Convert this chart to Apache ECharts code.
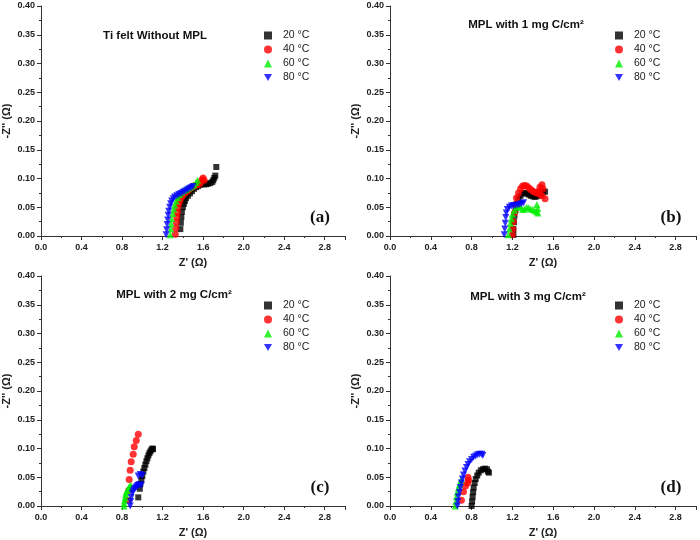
<!DOCTYPE html>
<html>
<head>
<meta charset="utf-8">
<script src="https://cdn.jsdelivr.net/npm/echarts@6/dist/echarts.min.js"></script>
<style>
  html, body { margin: 0; padding: 0; background: #fff; }
  #chart { width: 700px; height: 540px; }
</style>
</head>
<body>
<div id="chart"></div>
<script>
// legend names and panel texts
const tempNames = ['20 °C', '40 °C', '60 °C', '80 °C']
const panelTitles = ['Ti felt Without MPL', 'MPL with 1 mg C/cm²', 'MPL with 2 mg C/cm²', 'MPL with 3 mg C/cm²']
const panelLabels = ['(a)', '(b)', '(c)', '(d)']
const xTickLabels = ['0.0', '0.4', '0.8', '1.2', '1.6', '2.0', '2.4', '2.8']

// (a) Ti felt without MPL : [Z', -Z'']
const a20 = [[1.375,0.012],[1.38,0.023],[1.385,0.033],[1.39,0.042],[1.40,0.05],[1.41,0.056],[1.42,0.061],[1.43,0.066],[1.45,0.07],[1.47,0.074],[1.49,0.078],[1.51,0.082],[1.53,0.085],[1.55,0.087],[1.57,0.089],[1.59,0.09],[1.61,0.09],[1.63,0.09],[1.65,0.091],[1.67,0.092],[1.69,0.094],[1.70,0.097],[1.71,0.101],[1.72,0.105],[1.73,0.12]]
const a40 = [[1.325,0.003],[1.33,0.014],[1.335,0.024],[1.34,0.033],[1.345,0.041],[1.35,0.049],[1.36,0.056],[1.37,0.062],[1.385,0.067],[1.40,0.071],[1.42,0.075],[1.44,0.078],[1.46,0.081],[1.48,0.084],[1.50,0.086],[1.52,0.088],[1.54,0.089],[1.56,0.09],[1.575,0.093],[1.59,0.098],[1.60,0.101],[1.61,0.097]]
const a60 = [[1.275,0.002],[1.28,0.012],[1.285,0.021],[1.29,0.03],[1.30,0.039],[1.31,0.047],[1.32,0.054],[1.335,0.061],[1.35,0.067],[1.37,0.072],[1.39,0.076],[1.41,0.079],[1.43,0.081],[1.45,0.083],[1.47,0.085],[1.49,0.087],[1.51,0.089],[1.53,0.093],[1.545,0.097]]
const a80 = [[1.235,0.002],[1.24,0.011],[1.245,0.02],[1.25,0.028],[1.255,0.036],[1.26,0.043],[1.27,0.05],[1.28,0.056],[1.29,0.061],[1.305,0.065],[1.32,0.068],[1.34,0.07],[1.36,0.072],[1.38,0.074],[1.40,0.076],[1.42,0.078],[1.44,0.08],[1.46,0.082],[1.48,0.084],[1.50,0.086]]

// (b) MPL 1 mg C/cm2
const b20 = [[1.21,0.002],[1.21,0.012],[1.215,0.024],[1.22,0.035],[1.23,0.045],[1.24,0.055],[1.26,0.064],[1.28,0.07],[1.30,0.074],[1.32,0.075],[1.34,0.074],[1.36,0.072],[1.38,0.07],[1.40,0.069],[1.42,0.068],[1.44,0.069],[1.46,0.071],[1.48,0.074],[1.50,0.077],[1.52,0.077]]
const b40 = [[1.20,0.002],[1.205,0.012],[1.21,0.025],[1.22,0.04],[1.23,0.055],[1.24,0.066],[1.26,0.075],[1.28,0.082],[1.30,0.087],[1.32,0.088],[1.34,0.087],[1.36,0.084],[1.38,0.081],[1.40,0.078],[1.42,0.076],[1.44,0.075],[1.46,0.078],[1.47,0.085],[1.49,0.089],[1.50,0.082],[1.52,0.065],[1.49,0.07],[1.47,0.072]]
const b60 = [[1.16,0.002],[1.17,0.012],[1.18,0.022],[1.19,0.03],[1.20,0.038],[1.22,0.045],[1.24,0.05],[1.26,0.052],[1.28,0.05],[1.30,0.046],[1.32,0.047],[1.34,0.05],[1.36,0.049],[1.38,0.047],[1.40,0.046],[1.42,0.044],[1.44,0.042],[1.45,0.048],[1.45,0.04],[1.44,0.055]]
const b80 = [[1.12,0.002],[1.125,0.012],[1.13,0.022],[1.135,0.032],[1.14,0.04],[1.15,0.046],[1.17,0.05],[1.19,0.052],[1.21,0.053],[1.23,0.053],[1.25,0.054],[1.27,0.055],[1.29,0.056],[1.31,0.058]]

// (c) MPL 2 mg C/cm2
const c20 = [[0.96,0.015],[0.975,0.03],[0.98,0.038],[0.99,0.045],[1.00,0.052],[1.01,0.06],[1.02,0.066],[1.03,0.072],[1.04,0.078],[1.05,0.083],[1.06,0.088],[1.07,0.092],[1.08,0.095],[1.09,0.098],[1.10,0.1],[1.105,0.099]]
const c40 = [[0.86,0.01],[0.865,0.027],[0.87,0.046],[0.88,0.062],[0.89,0.077],[0.91,0.09],[0.92,0.103],[0.94,0.114],[0.96,0.125]]
const c60 = [[0.82,0.0],[0.82,0.005],[0.825,0.01],[0.83,0.015],[0.835,0.02],[0.84,0.024],[0.85,0.027],[0.86,0.03],[0.87,0.033],[0.88,0.036],[0.89,0.035]]
const c80 = [[0.88,0.0],[0.885,0.008],[0.89,0.015],[0.90,0.022],[0.91,0.026],[0.92,0.029],[0.93,0.031],[0.94,0.033],[0.95,0.035],[0.96,0.036],[0.97,0.037],[0.99,0.036],[0.96,0.052],[0.98,0.055],[1.0,0.053]]

// (d) MPL 3 mg C/cm2
const d20 = [[0.80,0.0],[0.805,0.008],[0.81,0.016],[0.815,0.024],[0.82,0.032],[0.83,0.04],[0.84,0.047],[0.855,0.053],[0.87,0.058],[0.89,0.062],[0.91,0.064],[0.93,0.065],[0.95,0.064],[0.96,0.06],[0.97,0.058]]
const d40 = [[0.70,0.01],[0.72,0.025],[0.74,0.035],[0.76,0.04],[0.77,0.045],[0.765,0.05]]
const d60 = [[0.64,0.0],[0.645,0.008],[0.65,0.016],[0.66,0.024],[0.67,0.031],[0.68,0.037],[0.69,0.042],[0.70,0.046]]
const d80 = [[0.66,0.0],[0.665,0.008],[0.67,0.016],[0.68,0.024],[0.69,0.032],[0.70,0.04],[0.71,0.047],[0.72,0.054],[0.735,0.061],[0.75,0.067],[0.765,0.072],[0.78,0.077],[0.80,0.081],[0.82,0.085],[0.84,0.087],[0.86,0.089],[0.88,0.09],[0.90,0.09],[0.91,0.088]]

const panelData = [
    [a20, a40, a60, a80],
    [b20, b40, b60, b80],
    [c20, c40, c60, c80],
    [d20, d40, d60, d80]
]

const downTri = 'path://M0,0L10,0L5,9Z'
const marks = [
    {symbol: 'rect', size: 6, color: '#000000'},
    {symbol: 'circle', size: 7, color: '#ff0000'},
    {symbol: 'triangle', size: 7, color: '#00ee00'},
    {symbol: downTri, size: 7, color: '#0000ff'}
]

// panel placement: [left, top]
const panelPos = [[39, 6], [390, 6], [39, 276], [390, 276]]
// title centres relative to the panel
const titlePos = [[116, 30], [136, 19], [135, 19], [138, 21]]
const plotW = 306
const plotH = 230

const labelFont = {fontFamily: 'Liberation Sans', fontWeight: 'bold', fontSize: 9, color: '#222'}

let grids = [], xAxes = [], yAxes = [], series = [], legends = [], graphics = []

panelPos.forEach((p, i) => {
    grids.push({left: p[0], top: p[1], width: plotW, height: plotH})
    xAxes.push({
        gridIndex: i,
        type: 'value',
        min: 0,
        max: 3.0,
        interval: 0.4,
        name: "Z' (Ω)",
        nameLocation: 'middle',
        nameGap: 21,
        nameTextStyle: {fontFamily: 'Liberation Sans', fontWeight: 'bold', fontSize: 11, color: '#222'},
        axisLine: {lineStyle: {color: '#333', width: 1}},
        axisTick: {length: 4, lineStyle: {color: '#333'}},
        minorTick: {show: true, splitNumber: 2, length: 2, lineStyle: {color: '#333'}},
        splitLine: {show: false},
        axisLabel: Object.assign({
            margin: 7,
            formatter: v => {
                const s = v.toFixed(1)
                return xTickLabels.indexOf(s) >= 0 ? s : ''
            }
        }, labelFont)
    })
    yAxes.push({
        gridIndex: i,
        type: 'value',
        min: 0,
        max: 0.4,
        interval: 0.05,
        name: "-Z'' (Ω)",
        nameLocation: 'middle',
        nameGap: 29,
        nameRotate: 90,
        nameTextStyle: {fontFamily: 'Liberation Sans', fontWeight: 'bold', fontSize: 11, color: '#222'},
        axisLine: {show: true, lineStyle: {color: '#333', width: 1}},
        axisTick: {show: true, length: 4, lineStyle: {color: '#333'}},
        minorTick: {show: true, splitNumber: 2, length: 2, lineStyle: {color: '#333'}},
        splitLine: {show: false},
        axisLabel: Object.assign({margin: 6, formatter: v => v.toFixed(2)}, labelFont)
    })
    panelData[i].forEach((data, k) => {
        series.push({
            name: tempNames[k],
            type: 'scatter',
            xAxisIndex: i,
            yAxisIndex: i,
            symbol: marks[k].symbol,
            symbolSize: marks[k].size,
            itemStyle: {color: marks[k].color},
            data: data,
            animation: false
        })
    })
    legends.push({
        left: p[0] + 225,
        top: p[1] + 24,
        padding: 0,
        orient: 'vertical',
        itemWidth: 8,
        itemHeight: 8,
        itemGap: 3,
        selectedMode: false,
        textStyle: {fontFamily: 'Liberation Sans', fontSize: 10.5, color: '#222', padding: [0, 0, 0, 6]},
        data: tempNames.map((n, k) => ({name: n, icon: marks[k].symbol}))
    })
    graphics.push({
        type: 'text',
        x: p[0] + titlePos[i][0],
        y: p[1] + titlePos[i][1],
        style: {
            text: panelTitles[i],
            fontFamily: 'Liberation Sans',
            fontWeight: 'bold',
            fontSize: 11.5,
            fill: '#111',
            textAlign: 'center',
            textVerticalAlign: 'middle'
        }
    })
    graphics.push({
        type: 'text',
        x: p[0] + 281,
        y: p[1] + 212,
        style: {
            text: panelLabels[i],
            fontFamily: 'Liberation Serif',
            fontWeight: 'bold',
            fontSize: 17,
            fill: '#111',
            textAlign: 'center',
            textVerticalAlign: 'middle'
        }
    })
})

const chart = echarts.init(document.getElementById('chart'))
chart.setOption({
    animation: false,
    backgroundColor: '#fff',
    grid: grids,
    xAxis: xAxes,
    yAxis: yAxes,
    legend: legends,
    graphic: graphics,
    series: series
})
</script>
</body>
</html>
